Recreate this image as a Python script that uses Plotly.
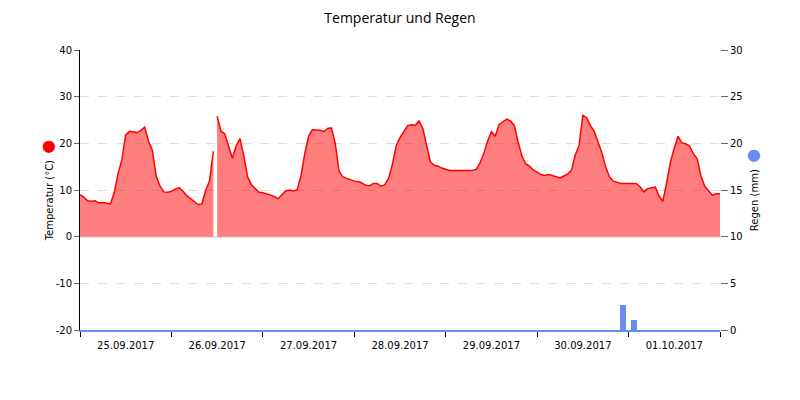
import pandas as pd
import plotly.graph_objects as go

# hourly temperature, 25.09.2017 00:00 .. 02.10.2017 00:00
start = "2017-09-25 00:00"
temps = [
    9.0, 8.5, 7.7, 7.6, 7.7, 7.2, 7.3, 7.2, 7.0, 9.5, 13.5, 16.5, 21.8, 22.6, 22.5,
    22.3, 22.8, 23.5, 20.4, 18.5, 13.0, 10.8, 9.6, 9.5, 9.7, 10.2, 10.5, 9.8, 8.8, 8.1,
    7.4, 6.9, 7.0, 10.0, 11.9, 18.3, 25.8, 22.6, 22.0, 19.5, 16.8, 19.5, 21.0, 17.3, 12.8,
    11.1, 10.3, 9.5, 9.4, 9.2, 8.9, 8.6, 8.1, 9.0, 9.8, 10.0, 9.8,
    10.0, 13.0, 17.8, 21.5, 22.9, 22.9, 22.8, 22.5, 23.2, 23.3, 20.0, 14.0, 12.8, 12.5,
    12.2, 11.9, 11.8, 11.5, 11.0, 10.9, 11.4, 11.4, 10.8, 11.1, 12.5, 15.5, 19.5, 21.2,
    22.5, 23.8,
    24.0, 23.9, 24.8, 23.2, 19.5, 16.0, 15.3, 15.1, 14.7, 14.4, 14.2, 14.2, 14.2, 14.2,
    14.2, 14.2, 14.2, 14.4, 15.8, 17.8, 20.5, 22.5, 21.5, 24.0, 24.6, 25.2, 24.8, 23.8, 20.3,
    17.3, 15.6, 15.1, 14.3, 13.8, 13.3, 13.1, 13.3, 13.1, 12.8, 12.6, 13.0, 13.4, 14.2,
    17.5, 19.5, 26.0, 25.5, 23.8, 22.5, 20.3, 18.0, 14.9, 12.8, 11.9, 11.6, 11.4, 11.4, 11.4,
    11.4, 11.4, 10.7, 9.6, 10.3, 10.5, 10.6, 8.7, 7.6, 11.5, 16.0, 19.0, 21.5, 20.1, 19.9,
    19.4, 17.8, 16.7, 13.0, 10.8, 9.8, 8.9, 9.2, 9.2,
]
gap_time = "2017-09-26 11:30"  # station offline, series is split here

rain_times = ["2017-09-30 22:30", "2017-10-01 01:30"]
rain_mm = [2.7, 1.1]

temp_ticks = [-20, -10, 0, 10, 20, 30, 40]
temp_labels = ["-20", "-10", "0", "10", "20", "30", "40"]
rain_ticks = [0, 5, 10, 15, 20, 25, 30]

temp = pd.Series(temps, index=pd.date_range(start, periods=len(temps), freq="h"))
parts = [temp[temp.index < gap_time], temp[temp.index > gap_time]]

fig = go.Figure()

for part in parts:
    fig.add_trace(go.Scatter(
        x=part.index, y=part.values,
        mode="lines", fill="tozeroy",
        line=dict(color="#FF0000", width=1.5),
        fillcolor="rgba(255,0,0,0.5)",
        name="Temperatur",
    ))

fig.add_trace(go.Bar(
    x=pd.to_datetime(rain_times), y=rain_mm,
    yaxis="y2", width=5400000,
    marker=dict(color="#6A8BEF", line=dict(width=0)),
    name="Regen",
))

fig.update_layout(
    width=800, height=400,
    margin=dict(l=80, r=80, t=50, b=70),
    plot_bgcolor="white", paper_bgcolor="white",
    showlegend=False,
    font=dict(family="DejaVu Sans", size=10, color="#000"),
    title=dict(text="Temperatur und Regen", x=0.5, y=0.955, xanchor="center", yanchor="middle",
               font=dict(family="Open Sans", size=14, color="#000")),
    xaxis=dict(
        range=["2017-09-25 00:00", "2017-10-02 00:00"],
        type="date", tick0="2017-09-25", dtick=86400000,
        tickformat="%d.%m.%Y", ticklabelmode="period",
        ticks="outside", ticklen=5, tickcolor="#000",
        showline=True, linecolor="#6A8BEF", linewidth=2,
        showgrid=False, automargin=False,
    ),
    yaxis=dict(
        range=[-20, 40], tickvals=temp_ticks, ticktext=temp_labels,
        ticks="outside", ticklen=5, tickcolor="#666",
        showline=True, linecolor="#000", linewidth=1,
        gridcolor="#DDDDDD", griddash="dash",
        zeroline=True, zerolinecolor="#E6E6E6", zerolinewidth=2,
        automargin=False,
        title=dict(text="Temperatur (°C)  <span style='color:#FF0000;font-size:16px'>●</span>",
                   font=dict(size=10), standoff=0),
    ),
    yaxis2=dict(
        range=[0, 30], tickvals=rain_ticks, overlaying="y", side="right",
        ticks="outside", ticklen=7, tickcolor="#666",
        showgrid=False, zeroline=False, showline=False,
        automargin=False,
        title=dict(text="Regen (mm)  <span style='color:#6A8BEF;font-size:16px'>●</span>",
                   font=dict(size=10), standoff=3),
    ),
    bargap=0,
)

fig.write_html("out.html", config={"displayModeBar": False},
               post_script="document.body.style.margin='0';")
